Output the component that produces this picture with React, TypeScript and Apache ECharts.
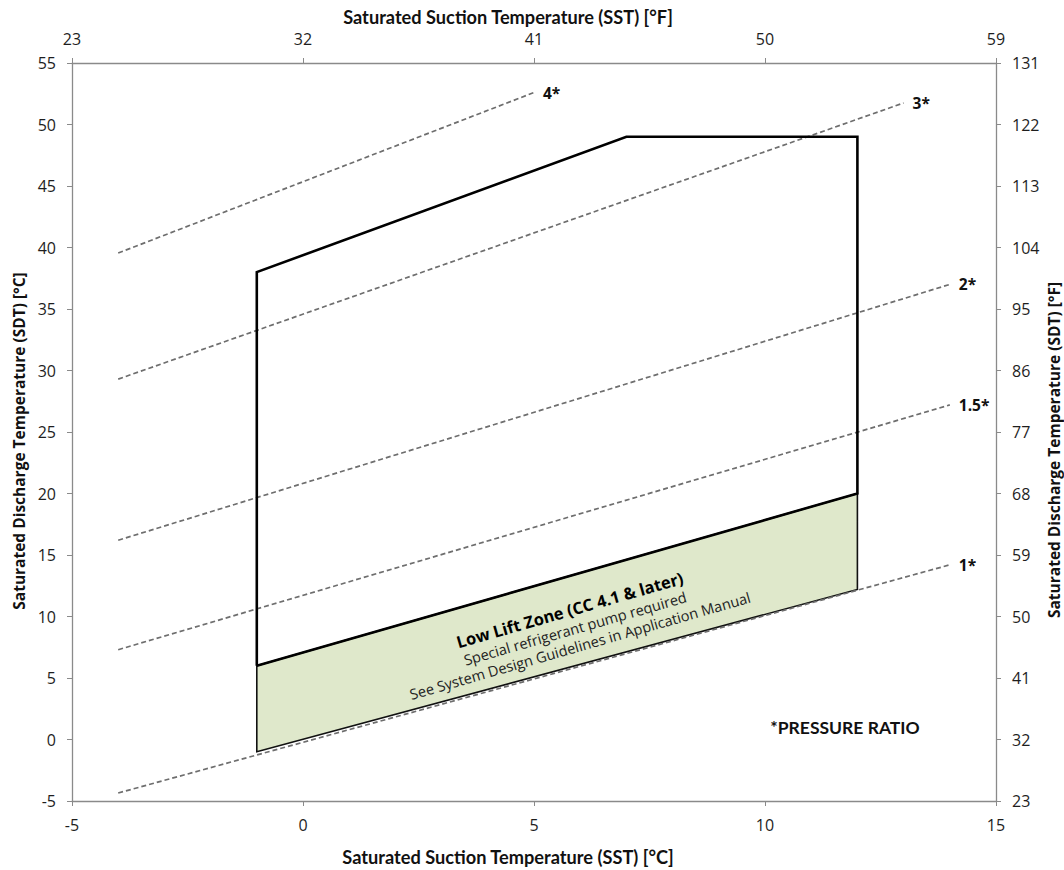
import { useEffect, useRef } from 'react';
import * as echarts from 'echarts';

// Compressor operating envelope (SST vs SDT, °C)
const envelopeSST = [-1, -1, 7, 12, 12, -1];
const envelopeSDT = [6, 38, 49, 49, 20, 6];

// Low lift zone (shaded band at the bottom of the envelope)
const lowLiftSST = [-1, 12, 12, -1];
const lowLiftSDT = [6, 20, 12.2, -1];

// Constant pressure-ratio lines
const ratioNames = ['1*', '1.5*', '2*', '3*', '4*'];
const ratioStartSST = [-4, -4, -4, -4, -4];
const ratioStartSDT = [-4.35, 7.3, 16.2, 29.3, 39.55];
const ratioEndSST = [14, 14, 14, 13, 5];
const ratioEndSDT = [14.2, 27.2, 37.0, 51.75, 52.6];

// Low lift zone notes
const lowLiftNotes = [
  'Low Lift Zone (CC 4.1 & later)',
  'Special refrigerant pump required',
  'See System Design Guidelines in Application Manual',
];

// Axis ranges (°C); the secondary axes show the same scale in °F
const sstMin = -5;
const sstMax = 15;
const sdtMin = -5;
const sdtMax = 55;
const tickStep = 5;

const toF = (c: number) => Math.round((c * 9) / 5 + 32);

const AXIS_GRAY = '#8a8a8a';
const TICK_FONT = 'Open Sans';
const TITLE_FONT = 'Lato';
const SIDE_TITLE_FONT = 'Open Sans';

function axisCommon() {
  return {
    type: 'value' as const,
    splitLine: { show: false },
    axisLine: { show: true, onZero: false, lineStyle: { color: AXIS_GRAY, width: 1.3 } },
    axisTick: { show: true, inside: false, length: 5, lineStyle: { color: AXIS_GRAY } },
    axisLabel: { fontFamily: TICK_FONT, fontSize: 16, color: '#1e1e1e', margin: 16 },
  };
}

export default function App() {
  const ref = useRef<HTMLDivElement>(null);

  useEffect(() => {
    if (!ref.current) return;
    const chart = echarts.init(ref.current, undefined, { renderer: 'svg' });

    const ratioSeries = ratioNames.map((name, i) => ({
      type: 'line' as const,
      name,
      xAxisIndex: 0,
      yAxisIndex: 0,
      z: 3,
      showSymbol: false,
      silent: true,
      data: [
        [ratioStartSST[i], ratioStartSDT[i]],
        [ratioEndSST[i], ratioEndSDT[i]],
      ],
      lineStyle: { color: '#6e6e6e', width: 1.7, type: [5, 3] as number[] },
      endLabel: {
        show: true,
        formatter: name,
        distance: 9,
        fontFamily: 'Open Sans',
        fontWeight: 'bold' as const,
        fontSize: 15.5,
        color: '#111',
      },
    }));

    const axisTitle = (text: string, x: number, y: number, rotated: boolean, font: string, size: number) => ({
      type: 'text' as const,
      x,
      y,
      rotation: rotated ? Math.PI / 2 : 0,
      silent: true,
      z: 100,
      style: {
        text,
        fontFamily: font,
        fontWeight: 'bold',
        fontSize: size,
        fill: '#111',
        textAlign: 'center',
        textVerticalAlign: 'middle',
      },
    });

    // Notes are laid along the slope of the low lift band
    const noteAngle = (16 * Math.PI) / 180;
    const noteCx = 575;
    const noteCy = 628;
    const noteOffsets = [-19, 0, 18];
    const noteGraphics = lowLiftNotes.map((text, i) => ({
      type: 'text' as const,
      x: noteCx + Math.sin(noteAngle) * noteOffsets[i],
      y: noteCy + Math.cos(noteAngle) * noteOffsets[i],
      rotation: noteAngle,
      silent: true,
      z: 100,
      style: {
        text,
        fontFamily: 'Open Sans',
        fontWeight: i === 0 ? 'bold' : 'normal',
        fontSize: i === 0 ? 16.5 : 14.6,
        fill: i === 0 ? '#000' : '#222',
        textAlign: 'center',
        textVerticalAlign: 'middle',
      },
    }));

    chart.setOption({
      animation: false,
      backgroundColor: '#ffffff',
      grid: { left: 72, right: 68, top: 63, bottom: 69, containLabel: false, outerBoundsMode: 'none' },
      xAxis: [
        { ...axisCommon(), position: 'bottom', min: sstMin, max: sstMax, interval: tickStep },
        {
          ...axisCommon(),
          position: 'top',
          min: sstMin,
          max: sstMax,
          interval: tickStep,
          axisLabel: { ...axisCommon().axisLabel, formatter: (v: number) => String(toF(v)) },
        },
      ],
      yAxis: [
        { ...axisCommon(), position: 'left', min: sdtMin, max: sdtMax, interval: tickStep },
        {
          ...axisCommon(),
          position: 'right',
          min: sdtMin,
          max: sdtMax,
          interval: tickStep,
          axisLabel: { ...axisCommon().axisLabel, formatter: (v: number) => String(toF(v)) },
        },
      ],
      series: [
        {
          type: 'custom',
          name: 'Low Lift Zone',
          xAxisIndex: 0,
          yAxisIndex: 0,
          z: 2,
          silent: true,
          data: [0],
          renderItem: (_params: any, api: any) => {
            const points = lowLiftSST.map((x, i) => api.coord([x, lowLiftSDT[i]]));
            return {
              type: 'polygon',
              shape: { points },
              style: { fill: '#dfe8cb', stroke: '#111', lineWidth: 1.6 },
            };
          },
        },
        ...ratioSeries,
        {
          type: 'line',
          name: 'Envelope',
          xAxisIndex: 0,
          yAxisIndex: 0,
          z: 4,
          showSymbol: false,
          silent: true,
          data: envelopeSST.map((x, i) => [x, envelopeSDT[i]]),
          lineStyle: { color: '#000', width: 2.6, join: 'miter' },
        },
      ],
      graphic: [
        axisTitle('Saturated Suction Temperature (SST) [°F]', 508, 17, false, TITLE_FONT, 18.2),
        axisTitle('Saturated Suction Temperature (SST) [°C]', 508, 857, false, TITLE_FONT, 18.2),
        axisTitle('Saturated Discharge Temperature (SDT) [°C]', 19, 441, true, SIDE_TITLE_FONT, 15.5),
        axisTitle('Saturated Discharge Temperature (SDT) [°F]', 1054, 450, true, SIDE_TITLE_FONT, 15.5),
        ...noteGraphics,
        {
          type: 'text',
          x: 845,
          y: 727,
          silent: true,
          z: 100,
          style: {
            text: '*PRESSURE RATIO',
            fontFamily: TITLE_FONT,
            fontWeight: 'bold',
            fontSize: 17.5,
            fill: '#111',
            textAlign: 'center',
            textVerticalAlign: 'middle',
          },
        },
      ],
    });

    return () => chart.dispose();
  }, []);

  return (
    <div
      ref={ref}
      style={{ position: 'fixed', left: 0, top: 0, width: 1064, height: 870, background: '#fff' }}
    />
  );
}
